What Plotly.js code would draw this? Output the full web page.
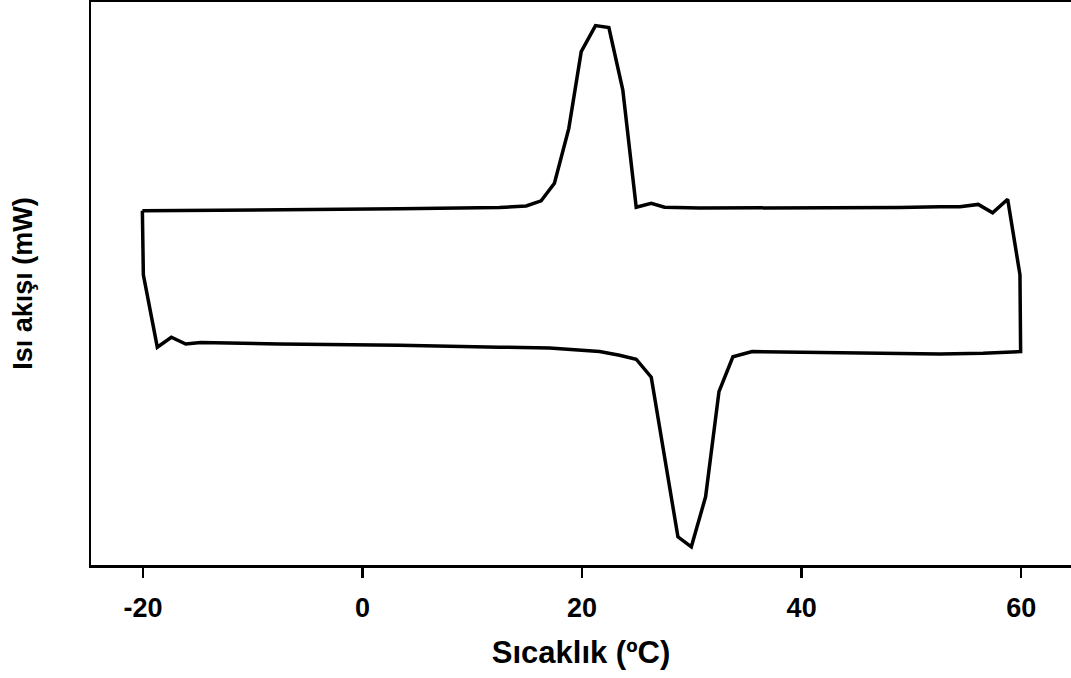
<!DOCTYPE html>
<html>
<head>
<meta charset="utf-8">
<script src="https://cdn.plot.ly/plotly-3.0.1.min.js"></script>
<style>html,body{margin:0;padding:0;background:#fff;}#chart{width:1071px;height:678px;}</style>
</head>
<body>
<div id="chart"></div>
<script>
// Temperature (°C) along the DSC loop: heating (top) then cooling (bottom)
const temperature = [
  -20.06, -7.60, 3.35, 12.47, 14.29, 14.90, 16.27, 17.48, 18.79, 19.92, 21.22, 22.44, 23.71, 24.93,
  26.30, 27.51, 30.70, 39.83, 48.95, 52.60, 54.42, 56.09, 57.40, 58.77, 59.89, 59.95,
  56.54, 52.60, 44.39, 39.83, 35.49, 33.74, 32.47, 31.25, 29.95, 28.73, 26.30, 24.93, 23.41, 21.59,
  17.03, 12.47, 3.35, -7.60, -14.74, -16.11, -17.42, -18.70, -19.97, -20.06
];
// Heat flow (arbitrary mW units)
const heatFlow = [
  1.73, 1.75, 1.78, 1.81, 1.83, 1.85, 1.98, 2.42, 3.79, 5.71, 6.36, 6.31, 4.75, 1.82,
  1.92, 1.82, 1.80, 1.80, 1.81, 1.83, 1.83, 1.89, 1.68, 2.02, 0.13, -1.79,
  -1.83, -1.85, -1.83, -1.80, -1.79, -1.92, -2.79, -5.42, -6.67, -6.42, -2.43, -1.98, -1.88, -1.79,
  -1.70, -1.68, -1.63, -1.60, -1.56, -1.60, -1.43, -1.68, 0.13, 1.73
];
const xTicks = [-20, 0, 20, 40, 60];
const xTickLabels = ['-20', '0', '20', '40', '60'];
const xTitle = 'Sıcaklık (ºC)';
const yTitle = 'Isı akışı (mW)';

const trace = {
  x: temperature, y: heatFlow, type: 'scatter', mode: 'lines',
  line: {color: '#000', width: 3.5}, hoverinfo: 'skip', showlegend: false
};
const font = 'Liberation Sans, Arial, sans-serif';
const layout = {
  width: 1071, height: 678,
  margin: {l: 91, r: 0, t: 2, b: 113},
  paper_bgcolor: '#fff', plot_bgcolor: '#fff',
  font: {family: font, color: '#000'},
  xaxis: {
    range: [-24.74, 64.54], tickvals: xTicks, ticktext: xTickLabels,
    ticks: 'outside', ticklen: 10, tickwidth: 2.5, tickcolor: '#000',
    showline: true, linewidth: 2.5, linecolor: '#000', mirror: true,
    showgrid: false, zeroline: false,
    tickfont: {family: font, size: 27, weight: 'bold'},
    ticklabelstandoff: 7,
    title: {text: xTitle, font: {family: font, size: 31, weight: 'bold'}, standoff: 20}
  },
  yaxis: {
    range: [-7.125, 6.95], showticklabels: false, ticks: '',
    showline: true, linewidth: 2.5, linecolor: '#000', mirror: false,
    showgrid: false, zeroline: false,
    title: {text: yTitle, font: {family: font, size: 27, weight: 'bold'}, standoff: 48}
  }
};
Plotly.newPlot('chart', [trace], layout, {displayModeBar: false, staticPlot: true});
</script>
</body>
</html>
